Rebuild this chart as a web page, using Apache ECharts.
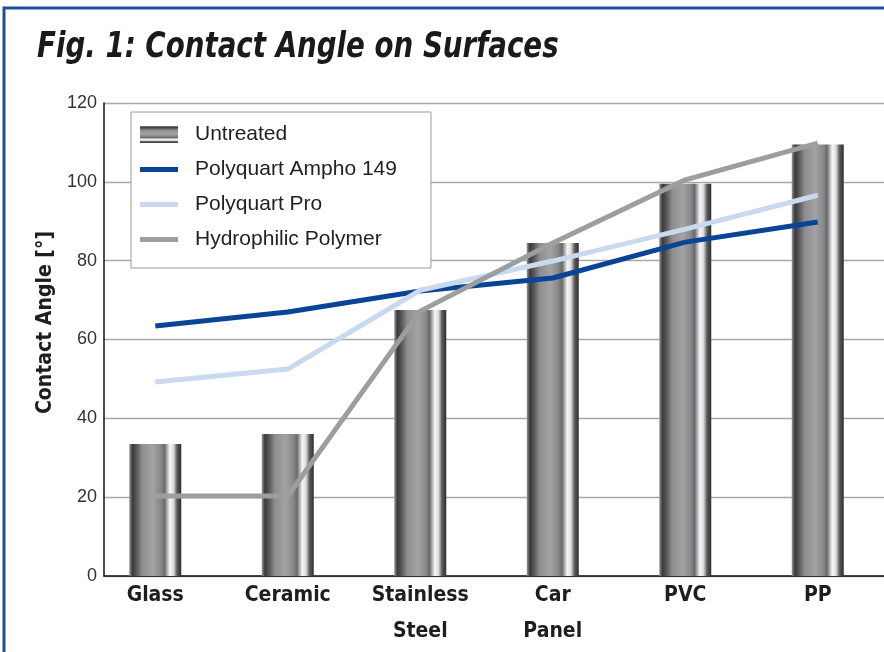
<!DOCTYPE html>
<html><head><meta charset="utf-8">
<script src="https://cdn.jsdelivr.net/npm/echarts@6/dist/echarts.min.js"></script>
<style>html,body{margin:0;padding:0;background:#fff}#c{width:884px;height:652px}</style>
</head><body><div id="c"></div>
<script>
const categories = ['Glass', 'Ceramic', 'Stainless\nSteel', 'Car\nPanel', 'PVC', 'PP'];
const untreated = [33.5, 36, 67.5, 84.5, 99.5, 109.5];
const ampho149 = [63.4, 67, 72.3, 75.6, 84.7, 89.8];
const polyquartPro = [49.2, 52.5, 72.5, 79.9, 88, 96.6];
const hydrophilic = [20.3, 20.3, 67.2, 84.5, 100.5, 109.8];
const yTicks = [0, 20, 40, 60, 80, 100, 120];

const stops = [
  [0, '#9a9a9c'], [0.06, '#3a3a3c'], [0.14, '#58585a'], [0.25, '#8e8e90'],
  [0.45, '#a3a3a5'], [0.6, '#8a8a8c'], [0.68, '#6a6a6c'], [0.78, '#f6f6f6'],
  [0.85, '#dcdcdc'], [0.92, '#5a5a5c'], [1, '#2e2e30']
].map(s => ({offset: s[0], color: s[1]}));
const barGrad = new echarts.graphic.LinearGradient(0, 0, 1, 0, stops);
const legendGrad = new echarts.graphic.LinearGradient(0, 0, 0, 1, stops);

const condensed = '"DejaVu Sans Condensed","Liberation Sans Narrow","Arial Narrow",sans-serif';
const lineIcon = 'path://M0,0H38V5H0Z';
const chart = echarts.init(document.getElementById('c'));
chart.setOption({
  animation: false,
  graphic: [
    {type: 'rect', shape: {x: 4, y: 8, width: 890, height: 700}, style: {fill: 'none', stroke: '#1d4f97', lineWidth: 3}},
    {type: 'text', x: 37, y: 30, scaleX: 0.855, originX: 0, originY: 0,
     style: {text: 'Fig. 1: Contact Angle on Surfaces', fill: '#1a1a1a',
             font: 'italic bold 36px ' + condensed, verticalAlign: 'top'}}
  ],
  legend: {
    orient: 'vertical', left: 131, top: 112,
    backgroundColor: '#fff', borderColor: '#9a9a9a', borderWidth: 1,
    padding: [12, 34, 18, 9], itemGap: 14, itemWidth: 38, itemHeight: 17,
    textStyle: {fontFamily: 'Liberation Sans, Arial, sans-serif', fontSize: 21, color: '#222', padding: [0, 0, 0, 12]},
    data: [
      {name: 'Untreated', icon: 'rect', itemStyle: {color: legendGrad}},
      {name: 'Polyquart Ampho 149', icon: lineIcon},
      {name: 'Polyquart Pro', icon: lineIcon},
      {name: 'Hydrophilic Polymer', icon: lineIcon}
    ]
  },
  grid: [
    {left: 104, right: 0, top: 103, bottom: 76},
    {left: 89, width: 801, top: 103, bottom: 76}
  ],
  xAxis: [
    {gridIndex: 0, type: 'value', min: 0, max: 1, axisLine: {show: true, onZero: false, lineStyle: {color: '#111', width: 1.5}},
     axisTick: {show: false}, axisLabel: {show: false}, splitLine: {show: false}},
    {gridIndex: 1, type: 'category', data: categories, axisLine: {show: false}, axisTick: {show: false},
     axisLabel: {interval: 0, margin: 2, fontFamily: condensed, fontWeight: 'bold', fontSize: 21, color: '#1e1e1e', lineHeight: 36, verticalAlign: 'top'}}
  ],
  yAxis: [
    {gridIndex: 0, type: 'value', min: yTicks[0], max: yTicks[yTicks.length - 1], interval: 20,
     axisLine: {show: true, lineStyle: {color: '#111', width: 1.5}}, axisTick: {show: false},
     axisLabel: {margin: 7, fontFamily: 'Liberation Sans, Arial, sans-serif', fontSize: 18, color: '#333'},
     splitLine: {lineStyle: {color: '#a8a8a8', width: 1.3}},
     name: 'Contact Angle [°]', nameLocation: 'middle', nameGap: 48,
     nameTextStyle: {fontFamily: condensed, fontWeight: 'bold', fontSize: 21, color: '#1e1e1e', padding: [0, 0, 0, 34]}},
    {gridIndex: 1, type: 'value', min: 0, max: 120, show: false}
  ],
  series: [
    {name: 'Untreated', type: 'bar', xAxisIndex: 1, yAxisIndex: 1, data: untreated, barWidth: 52,
     itemStyle: {color: barGrad}},
    {name: 'Polyquart Ampho 149', type: 'line', xAxisIndex: 1, yAxisIndex: 1, data: ampho149,
     symbol: 'none', lineStyle: {color: '#0a4496', width: 5}, itemStyle: {color: '#0a4496'}},
    {name: 'Polyquart Pro', type: 'line', xAxisIndex: 1, yAxisIndex: 1, data: polyquartPro,
     symbol: 'none', lineStyle: {color: '#c9daee', width: 5}, itemStyle: {color: '#c9daee'}},
    {name: 'Hydrophilic Polymer', type: 'line', xAxisIndex: 1, yAxisIndex: 1, data: hydrophilic,
     symbol: 'none', lineStyle: {color: '#9d9ea1', width: 5}, itemStyle: {color: '#9d9ea1'}}
  ]
});
</script></body></html>
